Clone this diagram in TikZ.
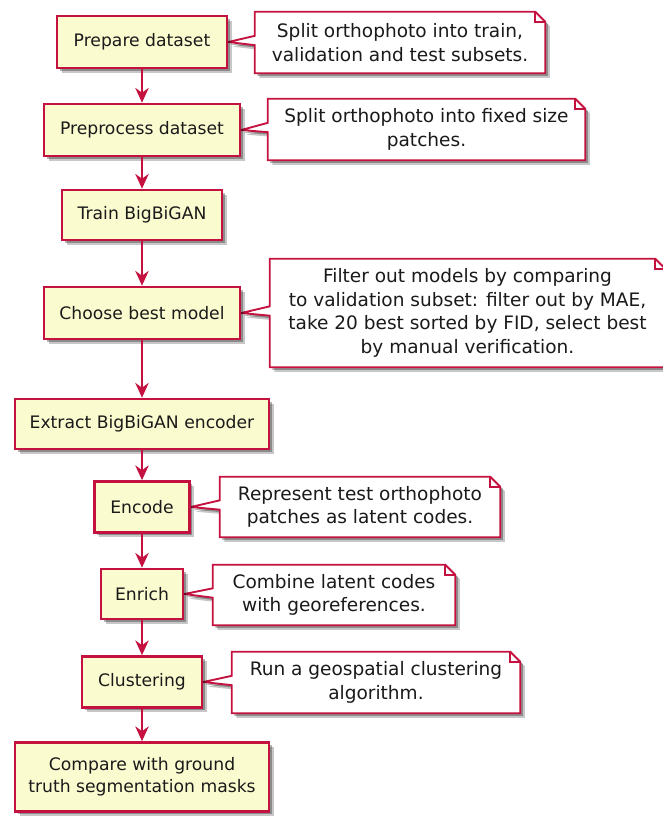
\documentclass[tikz,border=0pt]{standalone}
\usepackage{fontspec}
\setmainfont{DejaVu Sans}
\usetikzlibrary{arrows.meta,shadows,backgrounds}
\definecolor{umlred}{HTML}{C4113F}
\definecolor{umlfill}{HTML}{FBFBD0}
\definecolor{umltext}{HTML}{1A1A1A}
\def\px{0.75pt}

\begin{document}
\begin{tikzpicture}[x=0.75pt, y=-0.75pt,
    umlshadow/.style={
        drop shadow={shadow xshift=3.5pt, shadow yshift=-3.5pt,
            opacity=.22, fill=black},
        drop shadow={shadow xshift=2pt, shadow yshift=-2pt,
            opacity=.3, fill=black}},
    activity/.style={draw=umlred, line width=2pt, fill=umlfill,
        align=center, inner sep=0pt, text=umltext,
        font=\fontsize{12.9}{16.5}\selectfont, umlshadow},
    notetext/.style={align=center, inner sep=0pt, text=umltext,
        font=\fontsize{13.9}{17.6}\selectfont},
    notebox/.style={draw=umlred, line width=1.4pt, fill=white, umlshadow},
    notefold/.style={draw=umlred, line width=1.4pt},
    flow/.style={draw=umlred, line width=1.8pt,
        -{Stealth[length=11pt, width=10pt, inset=3.5pt]}},
]

% === Canvas ===
\path[use as bounding box] (0,0) rectangle (662,819);
\clip (0,0) rectangle (662,819);

% === Activities ===
\def\colA{142}
\node[activity, minimum width=170*\px, minimum height=52*\px] (prepare) at (\colA, 42) {Prepare dataset};
\node[activity, minimum width=196*\px, minimum height=52*\px] (preprocess) at (\colA, 130) {Preprocess dataset};
\node[activity, minimum width=160*\px, minimum height=50*\px] (train) at (\colA, 215) {Train BigBiGAN};
\node[activity, minimum width=196*\px, minimum height=52*\px] (choose) at (\colA, 313) {Choose best model};
\node[activity, minimum width=254*\px, minimum height=50*\px] (extract) at (\colA, 424) {Extract BigBiGAN encoder};
\node[activity, minimum width=95*\px, minimum height=51*\px] (encode) at (\colA, 507) {Encode};
\node[activity, minimum width=82*\px, minimum height=50*\px] (enrich) at (\colA, 594) {Enrich};
\node[activity, minimum width=120*\px, minimum height=51*\px] (cluster) at (\colA, 682) {Clustering};
\node[activity, minimum width=254*\px, minimum height=69*\px] (compare) at (\colA, 777)
    {Compare with ground\\truth segmentation masks};

% === Flow ===
\draw[flow] (prepare) -- (preprocess);
\draw[flow] (preprocess) -- (train);
\draw[flow] (train) -- (choose);
\draw[flow] (choose) -- (extract);
\draw[flow] (extract) -- (encode);
\draw[flow] (encode) -- (enrich);
\draw[flow] (enrich) -- (cluster);
\draw[flow] (cluster) -- (compare);

% === Notes ===
\node[notetext, minimum width=290*\px, minimum height=61*\px] (noteprepare) at (400, 42.5)
    {Split orthophoto into train,\\validation and test subsets.};
\node[notetext, minimum width=317*\px, minimum height=61*\px] (notepreprocess) at (426.5, 129.5)
    {Split orthophoto into fixed size\\patches.};
\node[notetext, minimum width=395*\px, minimum height=108*\px] (notechoose) at (467.5, 313)
    {Filter out models by comparing\\to validation subset: filter out by MAE,\\take 20 best sorted by FID, select best\\by manual verification.};
\node[notetext, minimum width=280*\px, minimum height=60*\px] (noteencode) at (360, 507)
    {Represent test orthophoto\\patches as latent codes.};
\node[notetext, minimum width=242*\px, minimum height=60*\px] (noteenrich) at (334, 595)
    {Combine latent codes\\with georeferences.};
\node[notetext, minimum width=288*\px, minimum height=61*\px] (notecluster) at (376, 682.5)
    {Run a geospatial clustering\\algorithm.};

% note outlines with fold and pointer
\begin{scope}[on background layer]
\foreach \n/\b in {noteprepare/prepare, notepreprocess/preprocess, notechoose/choose,
                   noteencode/encode, noteenrich/enrich, notecluster/cluster} {
    \draw[notebox] (\n.north west) -- ([xshift=-7.5pt]\n.north east)
        -- ([yshift=-7.5pt]\n.north east) -- (\n.south east) -- (\n.south west)
        -- ([yshift=-2pt]\n.west) -- (\b.east) -- ([yshift=5pt]\n.west) -- cycle;
    \draw[notefold] ([xshift=-7.5pt]\n.north east) |- ([yshift=-7.5pt]\n.north east);
}
\end{scope}

\end{tikzpicture}
\end{document}
